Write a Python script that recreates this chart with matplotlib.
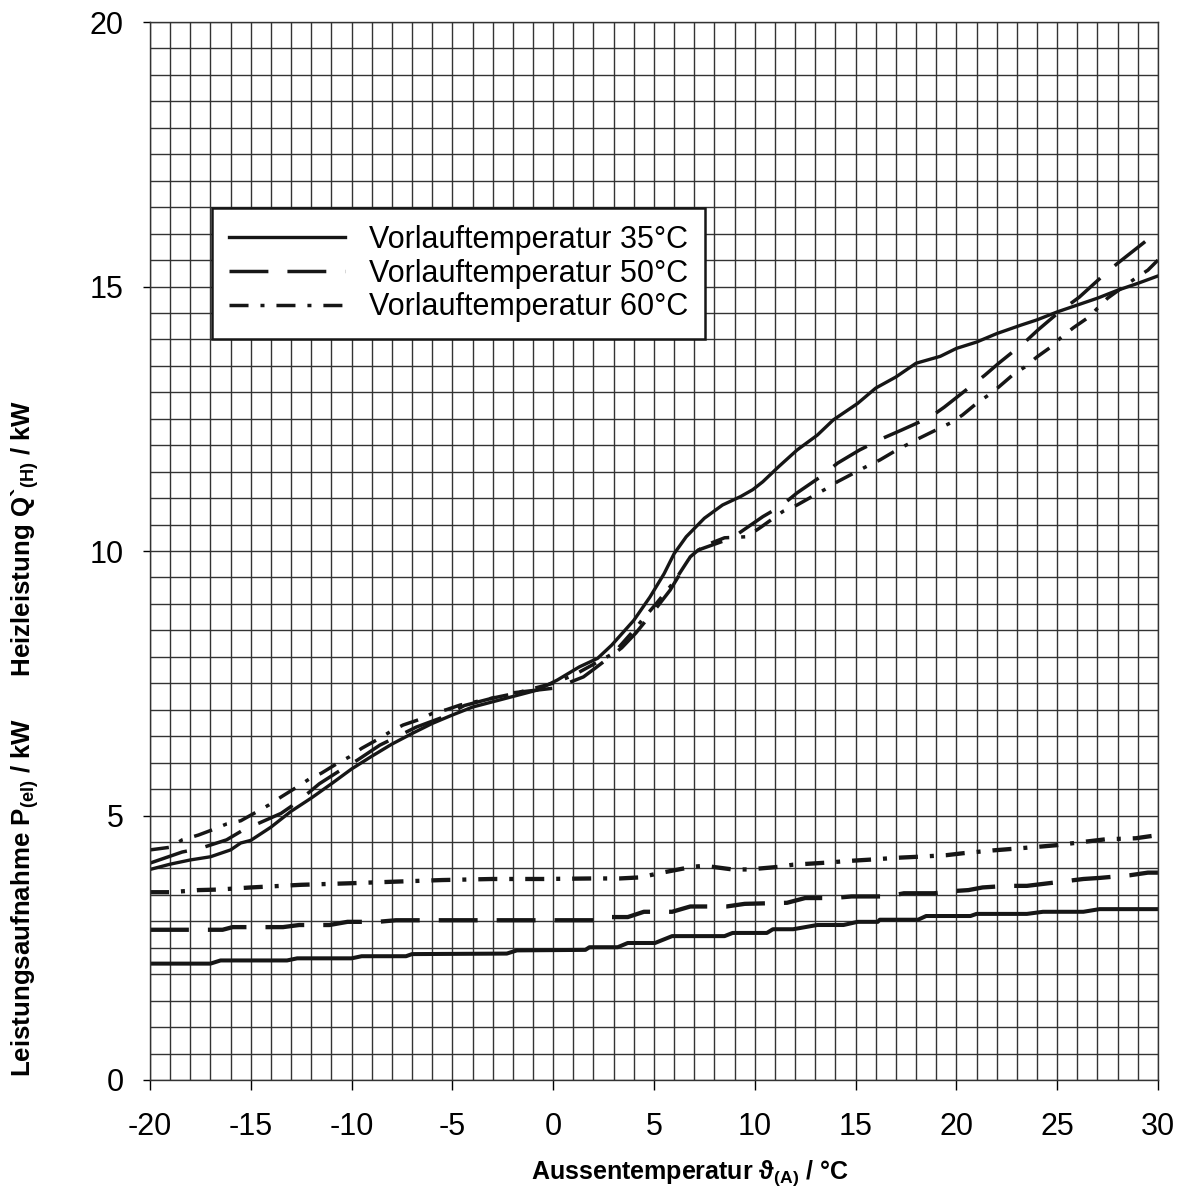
import matplotlib
matplotlib.use("Agg")
import matplotlib.pyplot as plt

# Heizleistung (upper curves)
x35_heat = [-20, -19, -18, -17, -16, -15.5, -15, -14, -13, -12, -11, -10, -9, -8, -7, -6, -5, -4, -2.3, -0.8,
            0.2, 1.3, 2.2, 2.9, 4, 4.8, 5.5, 6, 6.6, 7.5, 8.4, 9.3, 9.9, 10.4, 11.2, 12.1, 13.1, 13.9, 15.1, 16,
            17, 18, 19.2, 20, 21, 22, 23.2, 24, 25, 26, 27, 28, 29, 30]
y35_heat = [3.98, 4.08, 4.16, 4.22, 4.35, 4.48, 4.53, 4.78, 5.08, 5.33, 5.6, 5.88, 6.12, 6.35, 6.55, 6.74, 6.9, 7.05, 7.22, 7.37,
            7.56, 7.81, 7.97, 8.22, 8.69, 9.13, 9.57, 9.95, 10.27, 10.62, 10.87, 11.03, 11.16, 11.31, 11.6, 11.91, 12.19, 12.48, 12.79, 13.08,
            13.29, 13.55, 13.68, 13.83, 13.95, 14.11, 14.27, 14.37, 14.52, 14.65, 14.78, 14.93, 15.06, 15.2]

x50_heat = [-20, -18.4, -17.5, -16.2, -15.4, -13.5, -12.7, -11.6, -10.7, -9.7, -8.6, -7.8, -6.8, -5.6, -4.4, -2.8,
            -2, 0.1, 1.5, 2.1, 3.4, 4.1, 5.15, 5.8, 6.8, 7.2, 8.9, 9.3, 10.4, 11.3, 12.1, 13.4, 14.1, 15.2, 16.4,
            17.3, 18.7, 19.4, 21.4, 22.1, 23.4, 24.05, 25.1, 26.1, 27.4, 28, 29.4, 30]
y50_heat = [4.1, 4.31, 4.38, 4.54, 4.72, 5.04, 5.25, 5.6, 5.82, 6.05, 6.33, 6.48, 6.67, 6.84, 7.08, 7.24,
            7.32, 7.41, 7.62, 7.79, 8.17, 8.45, 8.94, 9.26, 9.89, 10.02, 10.25, 10.36, 10.65, 10.85, 11.1, 11.44, 11.66, 11.91, 12.14,
            12.29, 12.53, 12.72, 13.32, 13.55, 13.95, 14.18, 14.52, 14.8, 15.25, 15.44, 15.86, 16.0]

x60_heat = [-20, -19, -18.4, -17.6, -16.9, -16.2, -15.5, -14.7, -14.1, -13.5, -12.7, -12.1, -11.5, -10.6, -10.1,
            -9.5, -8.7, -8.1, -7.45, -6.6, -6, -5.3, -4.6, -3.5, -2, 0, 1, 2.2, 3, 4, 4.4, 5.1, 6, 6.8, 7.5, 8.5,
            9.6, 10.3, 11.4, 12.1, 12.8, 13.6, 14.1, 14.9, 15.5, 16.2, 17, 17.6, 18.2, 19, 19.7, 20.3, 21, 21.6,
            22.1, 22.8, 23.4, 24, 24.7, 25.2, 25.8, 26.6, 27, 27.5, 28.3, 28.9, 29.5, 30]
y60_heat = [4.35, 4.4, 4.54, 4.63, 4.73, 4.84, 4.9, 5.07, 5.2, 5.35, 5.54, 5.69, 5.8, 6.01, 6.11,
            6.27, 6.44, 6.58, 6.71, 6.82, 6.93, 7.0, 7.09, 7.18, 7.3, 7.5, 7.65, 7.9, 8.07, 8.5, 8.69, 9.0, 9.42, 9.89, 10.1, 10.25,
            10.27, 10.45, 10.75, 10.87, 11.02, 11.19, 11.31, 11.47, 11.59, 11.72, 11.9, 12.02, 12.14, 12.29, 12.42, 12.57, 12.79, 12.95,
            13.1, 13.33, 13.48, 13.67, 13.86, 14.04, 14.22, 14.43, 14.59, 14.78, 15.0, 15.16, 15.31, 15.5]

# Leistungsaufnahme (lower curves)
x35_el = [-20, -17, -16.5, -13.2, -12.7, -10, -9.5, -7.3, -7, -2.3, -1.8, 1.6, 1.8, 3.2, 3.7, 5.05, 5.9, 8.5,
          8.9, 10.6, 10.9, 11.9, 13.1, 14.4, 15.1, 16.1, 16.2, 18.1, 18.5, 20.7, 21, 23.5, 24.3, 26.3, 27.1, 30]
y35_el = [2.2, 2.2, 2.26, 2.26, 2.3, 2.3, 2.34, 2.34, 2.38, 2.39, 2.45, 2.46, 2.51, 2.51, 2.59, 2.59, 2.72, 2.72,
          2.78, 2.78, 2.85, 2.85, 2.93, 2.93, 2.99, 2.99, 3.03, 3.03, 3.1, 3.1, 3.14, 3.14, 3.18, 3.18, 3.23, 3.23]

x50_el = [-20, -16.4, -15.9, -13.4, -12.6, -11.1, -10.2, -8.7, -7.8, 2.3, 2.8, 3.7, 4.5, 5.9, 6.8, 8.6, 9.5,
          11.6, 12.5, 13.9, 14.8, 16.6, 17.4, 18.9, 19.8, 20.6, 21.3, 22.5, 23.5, 24.8, 26.3, 27.1, 28.6, 29.5, 30]
y50_el = [2.84, 2.84, 2.89, 2.89, 2.93, 2.93, 2.99, 2.99, 3.02, 3.02, 3.08, 3.08, 3.18, 3.18, 3.28, 3.28, 3.33,
          3.35, 3.44, 3.44, 3.47, 3.47, 3.53, 3.53, 3.57, 3.59, 3.64, 3.67, 3.67, 3.73, 3.8, 3.82, 3.87, 3.92, 3.92]

x60_el = [-20, -19, -17.6, -16.6, -15, -12.5, -10, -7.8, -5.5, -3, -0.5, 2, 3.3, 4.3, 5.4, 6.9, 7.5, 8.9, 9.6,
          10.3, 11.2, 11.9, 13.6, 14.6, 15.9, 17, 18.1, 19.5, 20.4, 21.8, 22.8, 24.1, 25, 26.5, 27.4, 28.9, 30]
y60_el = [3.55, 3.55, 3.59, 3.6, 3.64, 3.69, 3.72, 3.75, 3.78, 3.8, 3.8, 3.81, 3.81, 3.83, 3.92, 4.03, 4.05, 3.98, 3.98,
          4.0, 4.03, 4.07, 4.11, 4.14, 4.17, 4.2, 4.22, 4.25, 4.29, 4.34, 4.37, 4.41, 4.44, 4.51, 4.55, 4.57, 4.63]

labels = ["Vorlauftemperatur 35°C", "Vorlauftemperatur 50°C", "Vorlauftemperatur 60°C"]
x_ticks = [-20, -15, -10, -5, 0, 5, 10, 15, 20, 25, 30]
y_ticks = [0, 5, 10, 15, 20]

plt.rcParams["font.family"] = ["Liberation Sans", "DejaVu Sans"]
plt.rcParams["lines.scale_dashes"] = False
plt.rcParams["axes.unicode_minus"] = False

fig = plt.figure(figsize=(11.81, 11.98), dpi=100)
ax = fig.add_axes([0.127, 0.0985, 0.8535, 0.8831])

ink = "#161616"
lw = 2.5
dash = (0, (28, 13.7))
dashdot = (0, (13.7, 8.6, 2.9, 8.6))

ax.plot(x35_heat, y35_heat, color=ink, lw=2.4, ls="-", label=labels[0])
ax.plot(x50_heat, y50_heat, color=ink, lw=lw, ls=dash, dash_capstyle="butt", label=labels[1])
ax.plot(x60_heat, y60_heat, color=ink, lw=lw, ls=dashdot, dash_capstyle="butt", label=labels[2])
ax.plot(x35_el, y35_el, color=ink, lw=lw + 0.4, ls="-")
ax.plot(x50_el, y50_el, color=ink, lw=lw + 0.6, ls=dash, dash_capstyle="butt")
ax.plot(x60_el, y60_el, color=ink, lw=lw + 0.6, ls=dashdot, dash_capstyle="butt")

ax.set_xlim(-20, 30)
ax.set_ylim(0, 20)
ax.set_xticks(x_ticks)
ax.set_yticks(y_ticks)
ax.set_xticks(range(-20, 31), minor=True)
ax.set_yticks([v * 0.5 for v in range(41)], minor=True)
ax.grid(which="both", color="#333333", lw=1.0)
ax.set_axisbelow(True)
ax.tick_params(axis="x", which="major", direction="out", length=7, width=1, pad=16, labelsize=22)
ax.tick_params(axis="y", which="major", direction="out", length=5, width=1, pad=14, labelsize=22)
ax.tick_params(which="minor", length=0)
for s in ax.spines.values():
    s.set_color("#333333")
    s.set_linewidth(1.0)

leg = ax.legend(loc="upper left", bbox_to_anchor=(0.0615, 0.824), fontsize=22, frameon=True,
                fancybox=False, framealpha=1, edgecolor=ink, handlelength=3.8, handletextpad=0.8,
                borderpad=0.55, labelspacing=0.12, borderaxespad=0)
leg.get_frame().set_linewidth(1.8)

label_font = ["Liberation Sans Narrow", "DejaVu Sans Condensed", "Liberation Sans", "DejaVu Sans"]
fig.text(0.584, 0.021, "Aussentemperatur ϑ$_{\\mathregular{(A)}}$ / °C", ha="center", va="center",
         fontsize=18, fontweight="bold", fontstretch="condensed", family=label_font)
fig.text(0.021, 0.384,
         "Leistungsaufnahme P$_{\\mathregular{(el)}}$ / kW      Heizleistung Q`$_{\\mathregular{(H)}}$ / kW",
         ha="center", va="center", rotation=90, fontsize=18.6, fontweight="bold", fontstretch="condensed",
         family=label_font)

fig.savefig("out.png", dpi=100)
